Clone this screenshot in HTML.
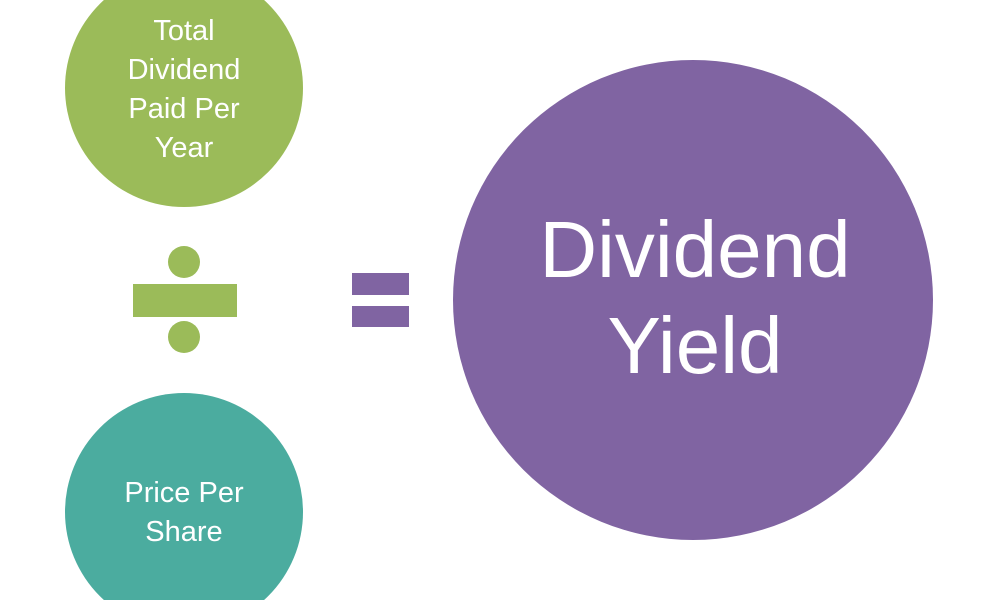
<!DOCTYPE html>
<html><head><style>
html,body{margin:0;padding:0;background:#fff;overflow:hidden;width:1000px;height:600px;}
</style></head><body>
<svg width="1000" height="600" xmlns="http://www.w3.org/2000/svg" style="display:block">
<rect width="1000" height="600" fill="#fff"/>
<circle cx="184" cy="88" r="119" fill="#9bbb59"/>
<circle cx="184" cy="512" r="119" fill="#4bac9f"/>
<circle cx="693" cy="300" r="240" fill="#8064a2"/>
<rect x="133" y="284" width="104" height="33" fill="#9bbb59"/>
<circle cx="184" cy="262" r="16" fill="#9bbb59"/>
<circle cx="184" cy="337" r="16" fill="#9bbb59"/>
<rect x="352" y="273" width="57" height="22" fill="#8064a2"/>
<rect x="352" y="306" width="57" height="21" fill="#8064a2"/>
<g font-family="Liberation Sans, DejaVu Sans, sans-serif" fill="#fff" text-anchor="middle">
<text x="184" y="40" font-size="29">Total</text>
<text x="184" y="79" font-size="29">Dividend</text>
<text x="184" y="118" font-size="29">Paid Per</text>
<text x="184" y="157" font-size="29">Year</text>
<text x="184" y="502" font-size="29">Price Per</text>
<text x="184" y="541" font-size="29">Share</text>
<text x="695" y="277" font-size="80">Dividend</text>
<text x="695" y="373" font-size="80">Yield</text>
</g>
</svg>
</body></html>
